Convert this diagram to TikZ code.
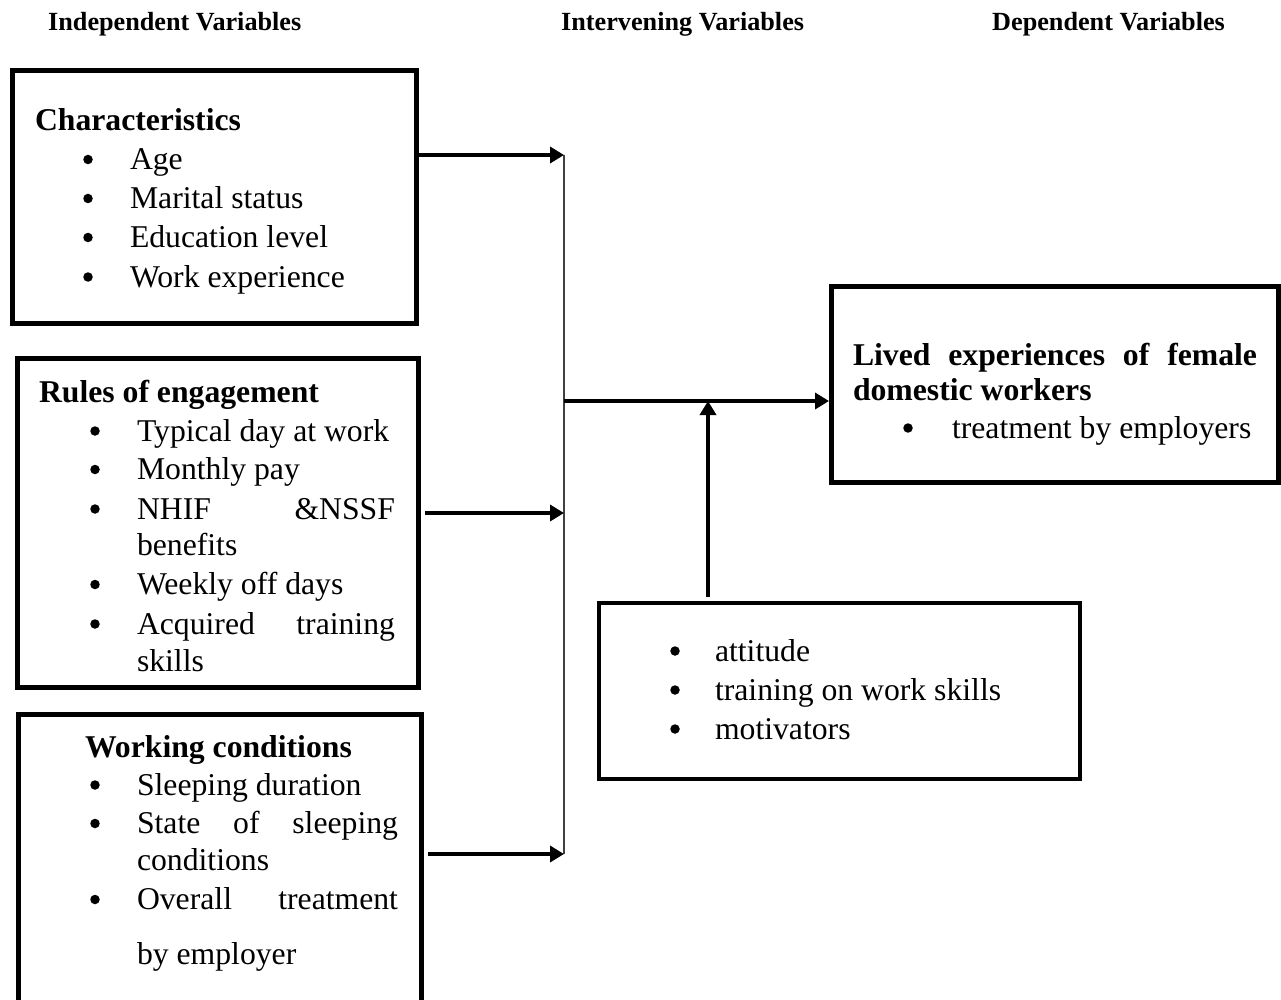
\documentclass[tikz,border=0pt]{standalone}
\usepackage{fontspec}
\setmainfont{Liberation Serif}
\usetikzlibrary{arrows.meta}
\begin{document}
\begin{tikzpicture}[x=1pt,y=-1pt,
  box/.style={draw, line width=5pt, inner sep=0pt, outer sep=0pt},
  txt/.style={anchor=base west, inner sep=0pt, outer sep=0pt, font=\fontsize{31.7}{38}\selectfont},
  hd/.style={anchor=base west, inner sep=0pt, outer sep=0pt, font=\fontsize{31.7}{38}\selectfont\bfseries},
  toplbl/.style={anchor=base west, inner sep=0pt, font=\fontsize{26.2}{30}\selectfont\bfseries},
  bul/.style={circle, fill=black, inner sep=0pt, minimum size=9.5pt},
  arr/.style={line width=4pt, -{Triangle[length=14pt,width=16pt]}},
  bus/.style={line width=1.3pt, draw=black!75}]
\clip (0,0) rectangle (1281,1000);
\fill[white] (0,0) rectangle (1281,1000);

% column headings
\node[toplbl] (indep) at (48,31) {Independent Variables};
\node[toplbl] (interv) at (561,31) {Intervening Variables};
\node[toplbl] (dep) at (992,31) {Dependent Variables};

% boxes
\node[box, minimum width=404pt, minimum height=252pt] (b1) at (214,197) {};
\node[box, minimum width=401pt, minimum height=329pt] (b2) at (217.5,522.5) {};
\node[box, minimum width=403pt, minimum height=316pt] (b3) at (219.5,872) {};
\node[box, minimum width=447pt, minimum height=196pt] (b4) at (1054.5,384) {};
\node[box, line width=4.5pt, minimum width=481pt, minimum height=176pt] (b5) at (839.5,691) {};

% box 1
\node[hd] (h1) at (35,131) {Characteristics};
\foreach \yy/\lbl [count=\i] in {169.5/Age, 208.5/Marital status, 247.5/Education level, 287/Work experience}{
  \node[bul] (p1\i) at (88,\yy-10) {};
  \node[txt] (t1\i) at (130,\yy) {\lbl};
}

% box 2
\node[hd] (h2) at (39,402) {Rules of engagement};
\node[bul] (p21) at (95,431) {};
\node[txt] (t21) at (137,441) {Typical day at work};
\node[bul] (p22) at (95,469.5) {};
\node[txt] (t22) at (137,479.5) {Monthly pay};
\node[bul] (p23) at (95,509) {};
\node[txt] (t23) at (137,519) {\makebox[258pt][s]{NHIF\hfill\&NSSF}};
\node[txt] (t24) at (137,555.5) {benefits};
\node[bul] (p25) at (95,584.5) {};
\node[txt] (t25) at (137,594.5) {Weekly off days};
\node[bul] (p26) at (95,624) {};
\node[txt] (t26) at (137,634) {\makebox[258pt][s]{Acquired\hfill training}};
\node[txt] (t27) at (137,671) {skills};

% box 3
\node[hd] (h3) at (85,757) {Working conditions};
\node[bul] (p31) at (95,785) {};
\node[txt] (t31) at (137,795) {Sleeping duration};
\node[bul] (p32) at (95,823.5) {};
\node[txt] (t32) at (137,833.5) {\makebox[261pt][s]{State\hfill of\hfill sleeping}};
\node[txt] (t33) at (137,870.5) {conditions};
\node[bul] (p34) at (95,899.5) {};
\node[txt] (t34) at (137,909.5) {\makebox[261pt][s]{Overall\hfill treatment}};
\node[txt] (t35) at (137,964.5) {by employer};

% box 4
\node[hd] (h41) at (853,365) {\makebox[404pt][s]{Lived\hfill experiences\hfill of\hfill female}};
\node[hd] (h42) at (853,400.5) {domestic workers};
\node[bul] (p41) at (908,428) {};
\node[txt] (t41) at (952,438) {treatment by employers};

% box 5
\node[bul] (p51) at (675,651) {};
\node[txt] (t51) at (715,661) {attitude};
\node[bul] (p52) at (675,690) {};
\node[txt] (t52) at (715,700) {training on work skills};
\node[bul] (p53) at (675,729) {};
\node[txt] (t53) at (715,739) {motivators};

% bus and connectors
\coordinate (k1) at (564,155);
\coordinate (k2) at (564,513);
\coordinate (k3) at (564,854);
\coordinate (km) at (564,401);
\coordinate (kj) at (708,401);
\draw[bus] (k1) -- (k3);
\draw[arr] ([xshift=1pt]b1.east |- k1) -- (k1);
\draw[arr] ([xshift=7pt]b2.east |- k2) -- (k2);
\draw[arr] ([xshift=7pt]b3.east |- k3) -- (k3);
\draw[arr] (km) -- ([xshift=-2pt]b4.west |- km);
\draw[arr] ([yshift=6pt]b5.north -| kj) -- (kj);
\end{tikzpicture}
\end{document}
